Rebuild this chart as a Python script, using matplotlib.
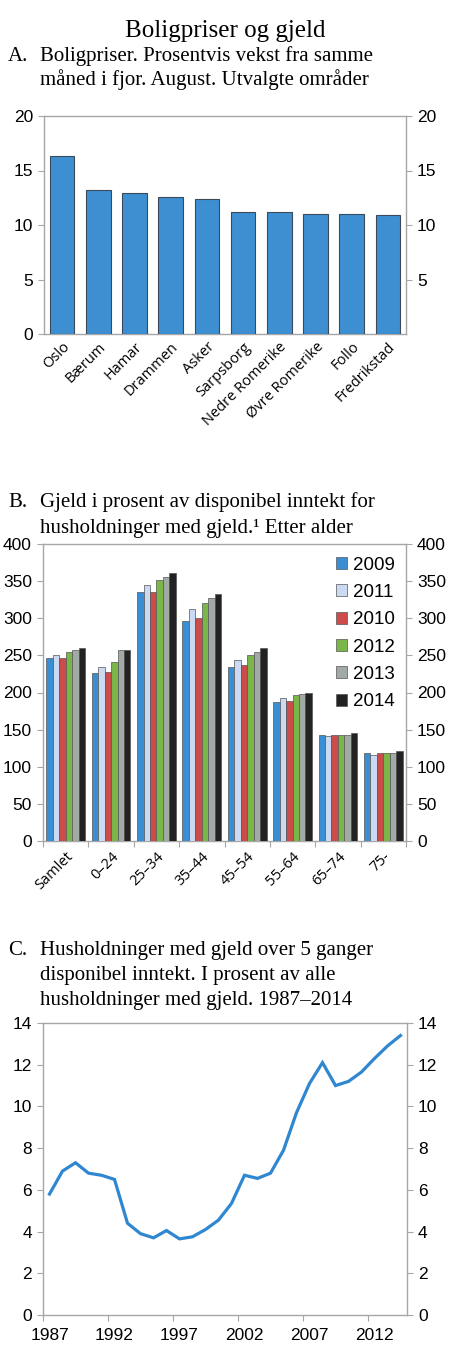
import matplotlib
matplotlib.use("Agg")
import matplotlib.pyplot as plt
import numpy as np

# ---------------- data ----------------
omrader = ["Oslo", "Bærum", "Hamar", "Drammen", "Asker", "Sarpsborg",
           "Nedre Romerike", "Øvre Romerike", "Follo", "Fredrikstad"]
boligpris_vekst = [16.3, 13.2, 12.9, 12.6, 12.4, 11.2, 11.2, 11.05, 11.05, 10.9]

aldersgrupper = ["Samlet", "0–24", "25–34", "35–44", "45–54", "55–64", "65–74", "75-"]
serie_aar = ["2009", "2011", "2010", "2012", "2013", "2014"]
gjeld_2009 = [246, 226, 336, 296, 235, 187, 143, 119]
gjeld_2011 = [250, 235, 345, 312, 244, 193, 141, 116]
gjeld_2010 = [246, 228, 336, 300, 237, 189, 143, 119]
gjeld_2012 = [255, 241, 351, 321, 250, 196, 143, 119]
gjeld_2013 = [257, 257, 356, 327, 255, 198, 143, 119]
gjeld_2014 = [260, 257, 361, 332, 260, 200, 145, 121]

aar_c = list(range(1987, 2015))
andel_hoy_gjeld = [5.8, 6.9, 7.3, 6.8, 6.7, 6.5, 4.4, 3.9, 3.7, 4.05, 3.65, 3.75,
                   4.1, 4.55, 5.35, 6.7, 6.55, 6.8, 7.9, 9.7, 11.1, 12.1, 11.0,
                   11.2, 11.65, 12.3, 12.9, 13.4]

# ---------------- style ----------------
W, H = 450, 1368
fig = plt.figure(figsize=(W / 100, H / 100), dpi=100)
SERIF = ["Liberation Serif", "DejaVu Serif"]
SANS = ["Liberation Sans", "DejaVu Sans"]
XLAB = ["Open Sans", "DejaVu Sans"]
GRAY = "#a6a6a6"
TICK_FS = 12.5


def px_axes(x0, y0, x1, y1):
    return fig.add_axes([x0 / W, 1 - y1 / H, (x1 - x0) / W, (y1 - y0) / H])


def style_axes(ax, yticks, right_ticks=None):
    for s in ax.spines.values():
        s.set_color(GRAY)
        s.set_linewidth(1.0)
    ax.set_yticks(yticks)
    ax.set_yticklabels([str(t) for t in yticks], fontfamily=SANS, fontsize=TICK_FS)
    ax.tick_params(axis="y", direction="out", length=4, color=GRAY, pad=4)
    ax2 = ax.twinx()
    ax2.set_ylim(ax.get_ylim())
    rt = yticks if right_ticks is None else right_ticks
    ax2.set_yticks(rt)
    ax2.set_yticklabels([str(t) for t in rt], fontfamily=SANS, fontsize=TICK_FS)
    ax2.tick_params(axis="y", direction="out", length=4, color=GRAY, pad=4)
    for s in ax2.spines.values():
        s.set_visible(False)
    return ax2


def panel_title(letter, lines, y_first, spacing=24.5):
    fig.text(8 / W, 1 - y_first / H, letter, fontfamily=SERIF, fontsize=15,
             va="baseline", ha="left")
    for i, ln in enumerate(lines):
        fig.text(40 / W, 1 - (y_first + i * spacing) / H, ln, fontfamily=SERIF,
                 fontsize=15, va="baseline", ha="left")


fig.text(0.5, 1 - 37 / H, "Boligpriser og gjeld", fontfamily=SERIF, fontsize=18,
         ha="center", va="baseline")

# ---------------- Panel A ----------------
panel_title("A.", ["Boligpriser. Prosentvis vekst fra samme",
                   "måned i fjor. August. Utvalgte områder"], 61, spacing=24)
axA = px_axes(44, 116, 406, 334)
xA = np.arange(len(omrader))
axA.bar(xA, boligpris_vekst, width=0.68, color="#3d8fd1", edgecolor="#3a4a5a",
        linewidth=0.8, zorder=3)
axA.set_xlim(-0.5, len(omrader) - 0.5)
axA.set_ylim(0, 20)
style_axes(axA, [0, 5, 10, 15, 20], right_ticks=[5, 10, 15, 20])
axA.set_xticks(xA)
axA.set_xticklabels(omrader, rotation=45, ha="right", rotation_mode="anchor",
                    fontfamily=XLAB, fontsize=10.5)
axA.tick_params(axis="x", length=0, pad=4)

# ---------------- Panel B ----------------
panel_title("B.", ["Gjeld i prosent av disponibel inntekt for",
                   "husholdninger med gjeld.¹ Etter alder"], 507, spacing=26)
axB = px_axes(43, 544, 406, 841)
serier = [gjeld_2009, gjeld_2011, gjeld_2010, gjeld_2012, gjeld_2013, gjeld_2014]
farger = ["#3a8ed4", "#c9daf2", "#cc4c4c", "#7ab648", "#a2aaa6", "#222222"]
xB = np.arange(len(aldersgrupper))
bw = 0.142
for i, (vals, c, lab) in enumerate(zip(serier, farger, serie_aar)):
    axB.bar(xB + (i - 2.5) * bw, vals, width=bw, color=c, edgecolor="#555555",
            linewidth=0.5, label=lab, zorder=3)
axB.set_xlim(-0.5, len(aldersgrupper) - 0.5)
axB.set_ylim(0, 400)
style_axes(axB, list(range(0, 401, 50)))
axB.set_xticks(np.arange(-0.5, len(aldersgrupper), 1.0))
axB.set_xticklabels([])
axB.tick_params(axis="x", which="major", direction="out", length=4, color=GRAY)
axB.set_xticks(xB, minor=True)
axB.set_xticklabels(aldersgrupper, minor=True, rotation=45, ha="right",
                    rotation_mode="anchor", fontfamily=XLAB, fontsize=10.5)
axB.tick_params(axis="x", which="minor", length=0, pad=6)
leg = axB.legend(loc="upper right", bbox_to_anchor=(1.0, 0.995), frameon=False,
                 prop={"family": SANS, "size": 13.5}, handlelength=0.6,
                 handleheight=0.6, handletextpad=0.3, labelspacing=0.55,
                 borderaxespad=0.2)

# ---------------- Panel C ----------------
panel_title("C.", ["Husholdninger med gjeld over 5 ganger",
                   "disponibel inntekt. I prosent av alle",
                   "husholdninger med gjeld. 1987–2014"], 955, spacing=25)
axC = px_axes(43, 1023, 407, 1315)
xC = np.arange(len(aar_c))
axC.plot(xC, andel_hoy_gjeld, color="#2f87d1", linewidth=2.3, zorder=3,
         solid_joinstyle="miter")
axC.set_xlim(-0.5, len(aar_c) - 0.5)
axC.set_ylim(0, 14)
style_axes(axC, list(range(0, 15, 2)))
axC.set_xticks(np.arange(-0.5, len(aar_c), 5.0))
axC.set_xticklabels([])
axC.tick_params(axis="x", which="major", direction="out", length=4, color=GRAY)
lab_idx = [i for i, a in enumerate(aar_c) if (a - 1987) % 5 == 0]
axC.set_xticks(lab_idx, minor=True)
axC.set_xticklabels([str(aar_c[i]) for i in lab_idx], minor=True,
                    fontfamily=SANS, fontsize=TICK_FS)
axC.tick_params(axis="x", which="minor", length=0, pad=9)

fig.savefig("out.png", dpi=100)
